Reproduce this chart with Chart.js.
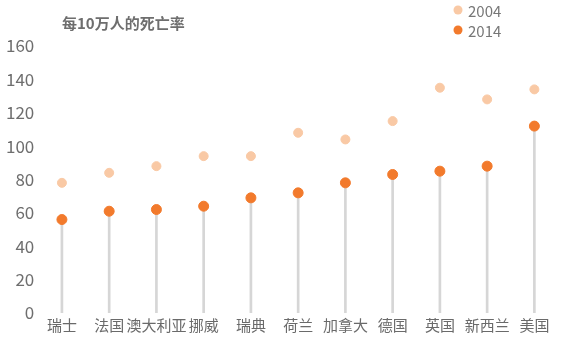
<!DOCTYPE html>
<html>
<head>
<meta charset="utf-8">
<script src="https://cdn.jsdelivr.net/npm/chart.js@4"></script>
<style>
  html, body { margin: 0; padding: 0; background: #fff; }
  #wrap { position: relative; width: 570px; height: 343px; }
</style>
</head>
<body>
<div id="wrap"><canvas id="deathChart"></canvas></div>
<script>
// 每10万人的死亡率
const countries = ['瑞士', '法国', '澳大利亚', '挪威', '瑞典', '荷兰', '加拿大', '德国', '英国', '新西兰', '美国'];
const rate2004 = [78, 84, 88, 94, 94, 108, 104, 115, 135, 128, 134];
const rate2014 = [56, 61, 62, 64, 69, 72, 78, 83, 85, 88, 112];
const yTicks = [0, 20, 40, 60, 80, 100, 120, 140, 160];

const FONT = '"Noto Sans CJK SC", "Noto Sans", sans-serif';

// title + stacked legend drawn on the canvas
const headerPlugin = {
    id: 'header',
    afterDraw(chart) {
        const ctx = chart.ctx;
        ctx.save();
        ctx.textBaseline = 'middle';
        ctx.fillStyle = '#6e6e6e';
        ctx.font = 'bold 15px ' + FONT;
        ctx.textAlign = 'left';
        ctx.fillText('每10万人的死亡率', 62, 23);

        const items = [
            { label: '2004', color: '#f9c9a5', y: 10 },
            { label: '2014', color: '#f27a2c', y: 30 }
        ];
        items.forEach(item => {
            ctx.beginPath();
            ctx.fillStyle = item.color;
            ctx.arc(458, item.y, 4.5, 0, Math.PI * 2);
            ctx.fill();
            ctx.fillStyle = '#777';
            ctx.font = '15px ' + FONT;
            ctx.fillText(item.label, 468, item.y + 1);
        });
        ctx.restore();
    }
};

new Chart(document.getElementById('deathChart'), {
    data: {
        labels: countries,
        datasets: [
            {
                type: 'scatter',
                label: '2004',
                data: rate2004,
                backgroundColor: '#f9c9a5',
                borderColor: '#f9c9a5',
                pointRadius: 4.5,
                showLine: false,
                order: 1
            },
            {
                type: 'scatter',
                label: '2014',
                data: rate2014,
                backgroundColor: '#f27a2c',
                borderColor: '#f27a2c',
                pointRadius: 5,
                showLine: false,
                order: 0
            },
            {
                type: 'bar',
                label: 'stem',
                data: rate2014,
                backgroundColor: '#d6d6d6',
                barThickness: 2,
                order: 2
            }
        ]
    },
    options: {
        responsive: true,
        maintainAspectRatio: false,
        animation: false,
        layout: {
            padding: { top: 46, left: 2, right: 12, bottom: 6 }
        },
        plugins: {
            legend: { display: false },
            tooltip: { enabled: false }
        },
        scales: {
            x: {
                type: 'category',
                offset: true,
                grid: { display: false, drawTicks: false },
                border: { display: false },
                ticks: {
                    color: '#6a6a6a',
                    font: { family: FONT, size: 15 },
                    padding: 3,
                    maxRotation: 0,
                    autoSkip: false
                }
            },
            y: {
                min: 0,
                max: 160,
                afterBuildTicks(axis) {
                    axis.ticks = yTicks.map(v => ({ value: v }));
                },
                grid: { display: false, drawTicks: false },
                border: { display: false },
                ticks: {
                    color: '#6e6e6e',
                    font: { family: FONT, size: 17 },
                    padding: 4
                }
            }
        }
    },
    plugins: [headerPlugin]
});
</script>
</body>
</html>
